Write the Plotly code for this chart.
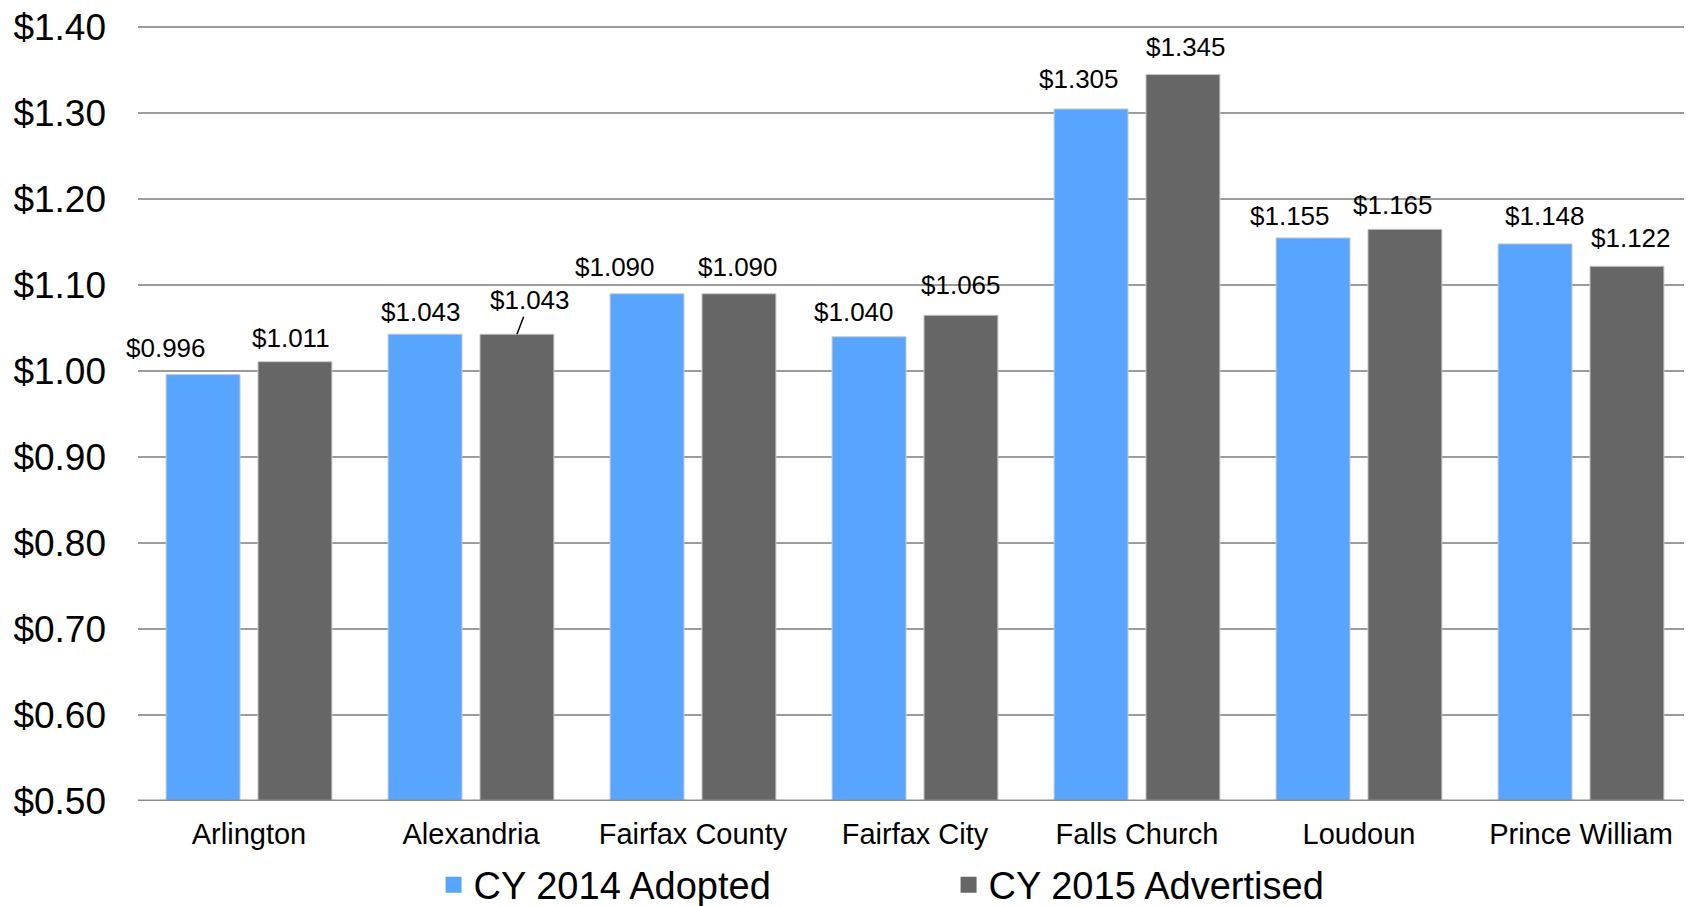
import plotly.graph_objects as go

categories = ["Arlington", "Alexandria", "Fairfax County", "Fairfax City",
              "Falls Church", "Loudoun", "Prince William"]
cy2014_adopted = [0.996, 1.043, 1.090, 1.040, 1.305, 1.155, 1.148]
cy2015_advertised = [1.011, 1.043, 1.090, 1.065, 1.345, 1.165, 1.122]
series_names = ["CY 2014 Adopted", "CY 2015 Advertised"]

# label nudges (px) relative to bar top centre: (dx, dy above)
nudge_2014 = [(-37, 27), (-4, 22), (-32, 27), (-15, 25), (-12, 30), (-23, 22), (10, 28)]
nudge_2015 = [(-4, 24), (13, 34), (-1, 27), (0, 30), (3, 28), (-12, 24), (4, 28)]

BLUE = "#58A5FF"
GRAY = "#666666"
FONT = "Liberation Sans, Arial, sans-serif"

SLOT = 0.414
BARW = 0.333
xs = list(range(len(categories)))

fig = go.Figure()
for vals, color, sign, name in [(cy2014_adopted, BLUE, -1, series_names[0]),
                                (cy2015_advertised, GRAY, 1, series_names[1])]:
    fig.add_trace(go.Bar(
        x=xs, y=[v - 0.5 for v in vals], base=0.5,
        width=BARW, offset=sign * SLOT / 2 - BARW / 2,
        marker=dict(color=color, line=dict(color="#c8c8c8", width=1)),
        showlegend=False, hoverinfo="skip",
    ))
    fig.add_trace(go.Scatter(
        x=[None], y=[None], mode="markers", name=name,
        marker=dict(symbol="square", size=19, color=color),
    ))

annotations = []
for vals, sign, nudges in [(cy2014_adopted, -1, nudge_2014), (cy2015_advertised, 1, nudge_2015)]:
    for i, v in enumerate(vals):
        dx, dy = nudges[i]
        xpos = i + sign * SLOT / 2
        txt = f"${v:.3f}"
        if sign == 1 and i == 1:
            annotations.append(dict(
                x=xpos, y=v, xref="x", yref="y", text=txt,
                showarrow=True, arrowhead=0, arrowwidth=1.5, arrowcolor="#000",
                ax=dx, ay=-dy, font=dict(family=FONT, size=26, color="#000"),
            ))
        else:
            annotations.append(dict(
                x=xpos, y=v, xref="x", yref="y", text=txt, showarrow=False,
                xshift=dx, yshift=dy, yanchor="middle",
                font=dict(family=FONT, size=26, color="#000"),
            ))

fig.update_layout(
    width=1684, height=898,
    margin=dict(l=130, r=0, t=18, b=105, autoexpand=False),
    paper_bgcolor="white", plot_bgcolor="white",
    barmode="overlay",
    font=dict(family=FONT, color="#000"),
    annotations=annotations,
    legend=dict(orientation="h", x=0.1902, xanchor="left", y=-0.0677, yanchor="top",
                bgcolor="rgba(0,0,0,0)",
                font=dict(family=FONT, size=38, color="#000"),
                entrywidth=470, entrywidthmode="pixels",
                itemwidth=30, tracegroupgap=0),
    xaxis=dict(
        range=[-0.5, 6.5], tickvals=xs, ticktext=categories,
        showgrid=False, zeroline=False, showline=False, automargin=False,
        ticks="", ticklabelstandoff=13, ticklabeloverflow="allow",
        tickfont=dict(family=FONT, size=29, color="#000"),
    ),
    yaxis=dict(
        range=[0.5, 1.4015], dtick=0.1, tick0=0.5, tickformat="$.2f",
        showgrid=True, gridcolor="#9c9c9c", gridwidth=2, automargin=False,
        zeroline=False, showline=False, ticks="", ticklabelstandoff=31,
        ticklabeloverflow="allow",
        tickfont=dict(family=FONT, size=37, color="#000"),
    ),
)
fig.add_shape(type="line", xref="paper", yref="y", x0=0, x1=1, y0=0.5, y1=0.5,
              line=dict(color="#8c8c8c", width=3), layer="above")

fig.write_html("out.html")
